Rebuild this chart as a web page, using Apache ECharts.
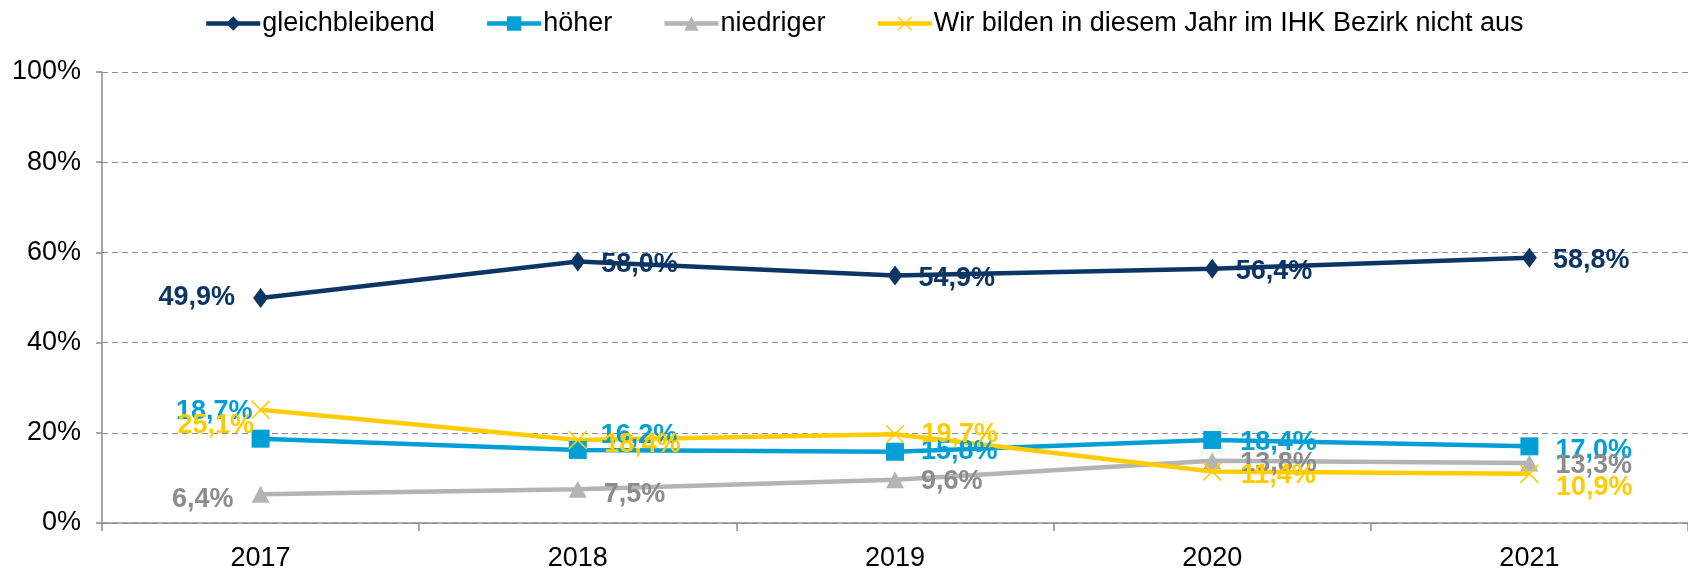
<!DOCTYPE html>
<html>
<head>
<meta charset="utf-8">
<script src="https://cdn.jsdelivr.net/npm/echarts@6/dist/echarts.min.js"></script>
<style>
  html, body { margin: 0; padding: 0; background: #fff; }
  #chart { width: 1688px; height: 573px; }
</style>
</head>
<body>
<div id="chart"></div>
<script>
const years = ['2017', '2018', '2019', '2020', '2021'];
const gleichbleibend = [49.9, 58.0, 54.9, 56.4, 58.8];
const hoeher = [18.7, 16.2, 15.8, 18.4, 17.0];
const niedriger = [6.4, 7.5, 9.6, 13.8, 13.3];
const nichtAus = [25.1, 18.4, 19.7, 11.4, 10.9];

// label placement per point: [position, distance, dy]
const labelPlace = {
  gleich: [['left', 18, 0], ['right', 16, 3], ['right', 16, 3], ['right', 16, 3], ['right', 16, 3]],
  hoeher: [['left', -1, -27], ['right', 14, -14], ['right', 17, 0], ['right', 19, 3], ['right', 17, 4]],
  niedriger: [['left', 18, 5], ['right', 17, 5], ['right', 17, 2], ['right', 19, 3], ['right', 17, 3]],
  nichtAus: [['left', -3, 16], ['right', 17, 5], ['right', 17, 0], ['right', 19, 4], ['right', 17, 14]]
};

const xMark = 'path://M0,0.06 L0.06,0 L0.5,0.44 L0.94,0 L1,0.06 L0.56,0.5 L1,0.94 L0.94,1 L0.5,0.56 L0.06,1 L0,0.94 L0.44,0.5 Z';

const fmt = v => v.toFixed(1).replace('.', ',') + '%';

function makeSeries(name, values, place, lineColor, labelColor, symbol, symbolSize) {
  return {
    name: name,
    type: 'line',
    symbol: symbol,
    symbolSize: symbolSize,
    lineStyle: { color: lineColor, width: 4.5 },
    itemStyle: { color: lineColor },
    emphasis: { disabled: true },
    data: values.map((v, i) => ({
      value: v,
      label: {
        position: place[i][0],
        distance: place[i][1],
        offset: [0, place[i][2]]
      }
    })),
    label: {
      show: true,
      color: labelColor,
      fontFamily: 'Liberation Sans',
      fontWeight: 'bold',
      fontSize: 27,
      formatter: p => fmt(p.value)
    }
  };
}

const chart = echarts.init(document.getElementById('chart'));
chart.setOption({
  animation: false,
  textStyle: { fontFamily: 'Liberation Sans' },
  legend: {
    top: 5,
    left: 199,
    itemWidth: 54,
    itemHeight: 18,
    itemGap: 50,
    lineStyle: { width: 4.5 },
    textStyle: { fontSize: 27, color: '#000', padding: [0, 0, 0, -3] },
    data: ['gleichbleibend', 'höher', 'niedriger', 'Wir bilden in diesem Jahr im IHK Bezirk nicht aus']
  },
  grid: { left: 102, right: -9, top: 72, bottom: 50, containLabel: false },
  xAxis: {
    type: 'category',
    data: years,
    boundaryGap: true,
    axisLine: { lineStyle: { color: '#8c8c8c', width: 1.5 } },
    axisTick: { show: true, length: 8, lineStyle: { color: '#8c8c8c', width: 1.5 } },
    axisLabel: { color: '#000', fontSize: 27, margin: 22 }
  },
  yAxis: {
    type: 'value',
    min: 0,
    max: 100,
    interval: 20,
    axisLine: { show: true, lineStyle: { color: '#8c8c8c', width: 1.5 } },
    axisTick: { show: true, length: 6, lineStyle: { color: '#8c8c8c', width: 1.5 } },
    axisLabel: { color: '#000', fontSize: 27, margin: 21, formatter: '{value}%' },
    splitLine: { lineStyle: { color: '#8c8c8c', type: [6, 4], width: 1 } }
  },
  series: [
    makeSeries('gleichbleibend', gleichbleibend, labelPlace.gleich, '#0b3565', '#0b3565', 'diamond', [15, 20]),
    makeSeries('höher', hoeher, labelPlace.hoeher, '#00a0d6', '#00a0d6', 'rect', 18),
    makeSeries('niedriger', niedriger, labelPlace.niedriger, '#b4b4b4', '#8c8c8c', 'triangle', [18, 17]),
    makeSeries('Wir bilden in diesem Jahr im IHK Bezirk nicht aus', nichtAus, labelPlace.nichtAus, '#ffcc00', '#ffcc00', xMark, 19)
  ]
});
</script>
</body>
</html>
